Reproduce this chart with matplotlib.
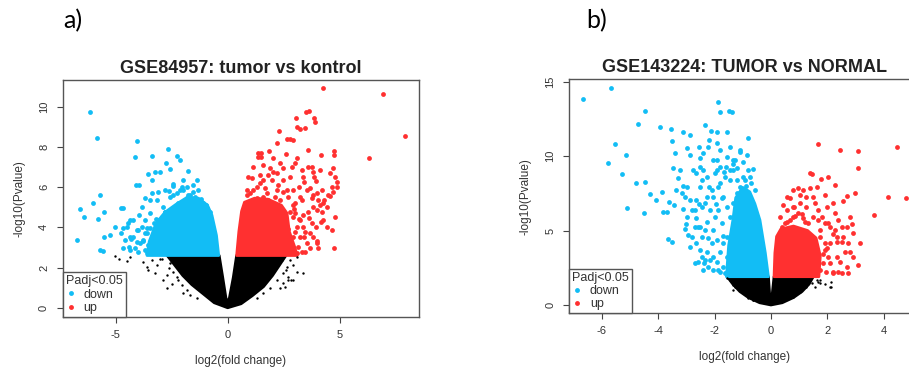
import matplotlib
matplotlib.use("Agg")
import matplotlib.pyplot as plt
from matplotlib.lines import Line2D

BLUE = "#12BDF5"
RED = "#FF3030"
BLACK = "#000000"
GRAY = "#444444"

# ---------------- Panel a data (GSE84957) ----------------
a_blue_x = [-6.13, -5.83, -4.05, -4.12, -3.39, -2.68, -2.74, -2.28, -2.14, -2.58, -1.77, -1.38,
            -3.57, -3.24, -3.02, -3.39, -4.07, -3.97, -2.46, -1.98, -5.72, -6.00, -6.58, -6.41,
            -5.81, -5.52, -6.74, -5.70, -5.58, -5.52, -5.24, -5.03, -4.78, -4.66, -4.78, -4.51,
            -4.36, -4.69, -4.39, -4.21, -3.84, -3.69, -3.47, -3.17, -2.95, -2.87, -2.57, -2.28,
            -1.98, -1.53, -3.62, -3.32, -3.02, -3.91, -4.14, -3.69, -2.72, -3.47, -2.43, -2.05,
            -4.00, -4.30, -3.80, -3.60, -3.95, -3.20, -3.05, -2.80, -2.60, -1.75, -1.20, -0.95,
            -4.66, -4.44, -4.21, -4.06, -3.84, -3.69, -3.47, -3.29, -3.10, -2.95, -2.80, -2.58,
            -2.40, -2.20, -2.05, -1.83, -1.68, -1.46, -1.24, -1.09, -0.94, -0.79, -4.58, -4.36,
            -4.06, -3.77, -3.54, -3.32, -3.10, -2.87, -2.65, -2.43, -4.36, -3.99, -3.62, -3.32,
            -2.95, -3.69, -3.39, -3.10, -2.80, -2.43, -2.13, -1.83, -1.53, -1.31]
a_blue_y = [9.72, 8.42, 8.29, 7.50, 7.55, 7.90, 7.21, 7.55, 7.33, 6.90, 6.80, 6.37,
            6.67, 6.77, 6.77, 6.37, 6.09, 6.09, 6.07, 6.37, 5.61, 5.22, 4.93, 4.51,
            4.41, 4.74, 3.35, 2.89, 2.84, 3.53, 3.63, 4.03, 4.96, 4.96, 3.70, 4.03,
            4.36, 2.95, 3.03, 3.53, 5.02, 4.36, 4.69, 5.36, 4.03, 5.02, 5.52, 5.69,
            5.85, 5.77, 3.70, 3.20, 2.95, 3.20, 2.95, 2.87, 2.79, 5.36, 6.18, 6.02,
            3.85, 3.40, 3.30, 3.95, 4.60, 4.40, 3.60, 4.75, 5.80, 5.60, 5.40, 5.10,
            3.95, 4.20, 4.36, 3.87, 4.03, 3.70, 3.95, 4.20, 4.36, 4.53, 4.78, 4.69,
            4.94, 5.19, 5.28, 5.44, 5.61, 5.52, 5.36, 5.19, 4.94, 4.78, 3.37, 3.53,
            3.28, 3.37, 3.12, 3.53, 3.28, 3.53, 3.70, 3.87, 2.87, 2.79, 2.70, 2.79,
            2.70, 5.44, 5.69, 5.77, 5.86, 5.61, 5.86, 6.02, 6.10, 5.86]

a_red_x = [4.27, 6.95, 6.31, 7.91, 4.75, 3.05, 3.50, 3.65, 3.87, 3.91, 2.31, 3.08, 3.23, 3.46,
           2.63, 2.78, 2.93, 2.22, 1.85, 1.34, 1.49, 1.34, 1.49, 2.04, 2.59, 3.08, 3.57, 4.17,
           4.75, 4.75, 4.69, 3.60, 3.75, 3.38, 3.87, 3.93, 4.87, 4.88, 4.72, 4.57, 4.32, 4.12,
           4.42, 3.97, 4.23, 4.17, 3.93, 3.75, 3.47, 3.68, 3.53, 3.30, 3.45, 3.82, 3.53, 3.23,
           3.00, 2.63, 2.78, 2.49, 2.19, 1.89, 1.59, 1.29, 1.07, 1.00, 0.85, 1.59, 2.34, 2.86,
           2.19, 1.74, 2.93, 3.08, 2.93, 3.15, 2.78, 2.70, 2.95, 3.20, 3.40, 2.60, 2.85, 4.00,
           0.85, 1.11, 1.44, 1.67, 1.96, 2.26, 2.48, 2.71, 2.93, 3.20, 3.41, 3.67, 3.97, 4.19,
           4.49, 4.64, 4.79, 4.57, 4.12, 3.82, 3.30, 3.00, 2.48, 2.04, 1.81, 1.44, 1.14, 0.92,
           2.78, 3.00, 3.23, 3.38, 3.60, 3.82, 4.27, 4.42, 4.64, 4.79, 3.00, 3.25, 3.82, 3.97,
           3.67, 4.05, 3.08, 2.86, 3.38, 3.64, 4.27, 4.01, 3.75, 3.30, 2.93, 2.34, 2.11, 1.81,
           1.59, 1.29]
a_red_y = [10.91, 10.65, 7.45, 8.56, 2.95, 9.45, 9.73, 9.80, 9.42, 9.24, 8.81, 8.99, 8.90, 8.96,
           8.41, 8.41, 8.34, 8.18, 7.81, 7.71, 7.71, 7.48, 7.48, 7.43, 7.64, 7.43, 7.84, 7.61,
           7.79, 7.60, 6.93, 7.01, 6.98, 6.52, 6.52, 6.30, 6.27, 6.02, 5.77, 5.57, 5.36, 5.11,
           5.02, 4.86, 4.78, 4.28, 4.03, 4.20, 3.78, 3.70, 3.20, 2.79, 2.79, 5.60, 5.85, 5.52,
           5.19, 5.85, 6.52, 6.35, 6.68, 6.93, 6.35, 6.02, 6.43, 5.69, 5.85, 7.10, 7.18, 7.01,
           5.85, 5.69, 4.53, 4.03, 3.53, 3.03, 2.95, 3.90, 4.90, 4.40, 3.50, 3.20, 2.70, 3.30,
           5.61, 5.86, 6.19, 5.94, 6.35, 6.10, 5.77, 5.52, 5.86, 6.02, 6.27, 5.94, 5.69, 5.86,
           5.61, 6.02, 6.52, 6.68, 6.85, 6.77, 6.85, 7.18, 6.93, 6.77, 6.60, 6.60, 7.02, 6.52,
           4.78, 4.70, 4.36, 4.61, 4.78, 5.03, 4.36, 4.03, 3.87, 4.53, 3.78, 3.53, 3.53, 3.20,
           2.95, 2.95, 2.70, 3.04, 4.03, 4.45, 5.19, 5.36, 5.44, 5.36, 5.11, 5.36, 5.52, 5.36,
           5.52, 5.44]

a_black_x = [-5.03, -4.50, -4.84, -4.36, -3.76, -3.54, -3.24, -2.87, -2.72, -1.98, -2.28, -3.17,
             -3.00, -2.60, -2.50, 2.93, 3.08, 3.38, 2.71, 2.49, 2.78, 2.34, 2.83, 2.60, 3.10,
             -2.95, -2.58, -2.43, -2.20, -2.05, -1.83, -1.68, -1.38, -3.39, -3.62, -2.72,
             2.41, 2.63, 2.48, 2.19, 1.89, 1.59, 1.29, 2.71, 2.93, 2.56]
a_black_y = [2.57, 2.31, 2.45, 2.53, 2.29, 1.87, 1.71, 1.38, 0.96, 0.71, 1.54, 2.12,
             2.45, 2.00, 1.20, 2.12, 1.79, 1.74, 1.38, 1.21, 2.37, 0.96, 1.38, 1.90, 2.50,
             2.45, 2.21, 1.79, 1.38, 1.13, 0.88, 0.63, 0.47, 2.37, 2.04, 1.63,
             2.37, 2.04, 1.71, 1.38, 0.96, 0.71, 0.47, 1.54, 1.38, 1.05]

# dense cores of the clouds (outlines)
a_blue_core_x = [-0.40, -0.50, -0.70, -0.90, -1.30, -1.80, -2.30, -2.80, -3.20, -3.50, -3.60]
a_blue_core_y = [2.60, 3.60, 4.60, 5.10, 5.45, 5.50, 5.15, 4.75, 4.20, 3.30, 2.60]
a_red_core_x = [0.40, 0.50, 0.62, 0.75, 1.20, 1.80, 2.40, 2.65, 2.75, 3.00, 3.10]
a_red_core_y = [2.60, 3.80, 4.80, 5.25, 5.45, 5.40, 5.10, 4.70, 3.80, 3.00, 2.60]
a_black_core_x = [0.00, 0.60, 1.10, 1.60, 2.00, 2.30, 2.60, 0.40, 0.25, 0.08, 0.00, -0.08,
                  -0.22, -0.38, -2.70, -2.35, -2.00, -1.60, -1.10, -0.60, 0.00]
a_black_core_y = [0.00, 0.20, 0.60, 1.05, 1.60, 2.10, 2.60, 2.60, 1.50, 0.50, 0.22, 0.50,
                  1.50, 2.60, 2.60, 2.10, 1.60, 1.15, 0.70, 0.25, 0.00]

# ---------------- Panel b data (GSE143224) ----------------
b_blue_x = [-6.68, -5.66, -5.53, -5.78, -5.13, -5.27, -5.11, -4.79, -4.70, -4.47, -4.48, -4.49,
            -4.30, -4.09, -3.94, -3.88, -3.84, -3.69, -3.66, -3.50, -3.62, -3.53, -3.51, -3.40,
            -3.46, -3.44, -3.12, -2.87, -2.99, -3.13, -3.17, -3.05, -3.13, -3.01, -3.05, -2.93,
            -2.68, -2.54, -2.35, -2.14, -1.91, -1.88, -1.80, -1.50, -1.37, -1.57, -0.83, -1.10,
            -0.63, -2.19, -2.52, -2.64, -2.99, -2.81, -2.64, -2.58, -2.46, -2.28, -2.46, -2.16,
            -2.04, -1.81, -2.10, -2.04, -2.28, -2.34, -2.04, -2.46, -2.87, -2.40, -2.04, -1.93,
            -1.57, -1.34, -1.22, -0.98, -1.45, -1.81, -1.87, -1.75, -1.93, -1.57, -1.69, -1.10,
            -3.23, -3.29, -3.35, -2.75, -2.52, -2.22, -1.90, -1.65, -1.20, -0.90, -0.75, -1.75,
            -2.20, -1.95, -1.70, -1.45, -2.55, -2.35, -1.60, -1.35,
            -2.64, -2.52, -2.38, -2.22, -2.04, -1.93, -1.81, -1.69, -1.57, -1.99, -2.16, -2.28,
            -2.10, -1.87, -1.69, -1.57, -1.45, -1.34, -1.22, -1.10, -0.92, -0.80, -0.69, -0.57,
            -0.80, -1.04, -1.45, -1.63, -1.81, -1.99, -2.28, -2.52, -2.64, -2.46, -2.34, -2.22,
            -2.52, -2.70, -2.81, -2.87, -2.58, -2.40, -1.87, -1.63, -1.34, -1.28, -0.98, -0.86,
            -1.45, -1.81, -1.93, -2.40, -2.70, -2.99, -2.87]
b_blue_y = [13.81, 14.57, 10.81, 9.56, 10.10, 8.78, 6.54, 8.17, 12.16, 13.05, 8.24, 6.16,
            7.45, 7.07, 11.95, 7.61, 6.27, 6.27, 4.41, 4.25, 6.94, 11.80, 11.01, 10.19,
            9.20, 6.72, 11.62, 11.42, 10.52, 7.99, 7.54, 7.28, 6.42, 5.42, 5.08, 4.70,
            2.80, 10.63, 12.07, 11.71, 11.64, 13.66, 12.98, 13.05, 12.96, 11.60, 11.24, 10.30,
            9.16, 11.08, 9.29, 8.84, 7.95, 6.38, 5.82, 5.26, 4.59, 3.58, 3.25, 3.02,
            2.35, 2.24, 4.14, 5.04, 5.60, 6.83, 7.28, 8.39, 10.07, 10.19, 9.74, 9.07,
            9.96, 9.74, 9.18, 8.62, 8.39, 8.17, 6.38, 5.48, 4.37, 3.25, 2.57, 10.41,
            9.07, 8.51, 7.72, 9.07, 9.85, 10.63, 10.86, 8.90, 8.40, 8.00, 8.60, 7.20,
            7.90, 6.80, 4.60, 2.80, 6.80, 3.00, 9.30, 9.50,
            4.14, 3.69, 2.80, 2.57, 3.25, 2.91, 3.58, 4.14, 4.59, 5.93, 6.38, 7.28,
            7.72, 7.95, 7.28, 6.60, 5.93, 6.83, 7.50, 7.95, 8.39, 9.07, 8.17, 7.72,
            7.28, 7.05, 9.07, 8.62, 9.29, 8.84, 8.62, 7.95, 7.05, 6.60, 5.04, 4.48,
            5.26, 5.26, 4.59, 3.92, 2.91, 2.35, 2.35, 2.13, 9.07, 9.74, 9.63, 10.07,
            10.63, 10.41, 9.74, 9.07, 6.38, 5.93, 7.05]

b_red_x = [1.68, 2.45, 3.10, 4.46, 3.10, 4.16, 4.79, 3.66, 2.98, 2.68, 2.27, 2.54, 2.03, 1.76,
           1.38, 1.45, 2.21, 1.97, 1.91, 2.27, 2.80, 2.86, 2.51, 3.16, 3.10, 2.80, 2.62, 2.51,
           2.33, 2.21, 2.09, 2.45, 2.21, 2.39, 0.96, 1.38, 0.67, 1.03, 0.44, 0.56, 0.32, 0.67,
           1.26, 1.56, 1.68, 1.74, 2.03, 1.91, 1.10, 0.85, 1.20, 1.85, 2.00, 1.95, 0.50, 0.80,
           0.38, 0.56, 0.79, 0.97, 1.15, 1.32, 1.50, 1.68, 1.80, 1.91, 2.09, 2.27, 1.74, 1.91,
           2.03, 1.86, 1.74, 1.56, 2.09, 2.33, 2.68, 2.74, 2.92, 2.21, 2.51, 0.79, 1.03, 1.26,
           1.50, 1.62, 1.15, 0.79, 0.56, 2.33, 2.57, 2.74, 2.92, 2.68, 2.39]
b_red_y = [10.81, 10.41, 10.34, 10.63, 9.22, 7.28, 7.16, 6.04, 7.54, 7.34, 8.06, 6.98, 8.57, 8.44,
           8.89, 8.78, 6.83, 6.60, 7.39, 6.16, 5.93, 5.44, 5.26, 4.19, 2.69, 3.58, 3.58, 4.25,
           4.25, 4.75, 2.80, 2.91, 2.24, 2.24, 7.84, 7.84, 7.16, 7.39, 6.72, 6.38, 5.93, 5.71,
           6.60, 6.83, 5.71, 5.04, 5.48, 4.14, 6.10, 6.00, 5.60, 3.40, 3.80, 2.20, 5.50, 6.60,
           5.26, 5.60, 5.93, 6.16, 5.82, 5.48, 5.93, 6.38, 5.93, 5.48, 5.26, 5.04, 4.59, 3.69,
           3.25, 2.80, 2.35, 3.25, 4.14, 3.25, 2.57, 2.13, 3.25, 2.13, 2.13, 6.60, 6.83, 7.28,
           7.28, 7.95, 7.72, 7.72, 7.28, 4.59, 4.59, 4.14, 4.81, 5.26, 5.71]

b_black_x = [1.74, 2.13, 2.13, 2.09, 1.68, -1.34, -1.10, -1.57, -0.80, -0.63, -1.28, 1.90, 1.55,
             -1.45, -1.34, -1.10, -0.86, -0.63, 1.03, 1.26, 1.44, 1.62, 1.74, 0.79]
b_black_y = [1.68, 1.23, 1.57, 1.23, 1.57, 1.00, 1.46, 1.79, 0.45, 0.34, 1.23, 1.40, 1.20,
             1.68, 1.34, 1.01, 0.67, 0.34, 0.90, 1.23, 1.46, 1.68, 1.46, 0.56]

b_blue_core_x = [-0.09, -0.20, -0.39, -0.57, -0.75, -1.00, -1.25, -1.35, -1.50, -1.58]
b_blue_core_y = [1.90, 3.50, 5.70, 6.80, 7.60, 7.90, 7.20, 5.70, 4.00, 1.90]
b_red_core_x = [0.11, 0.14, 0.20, 0.35, 0.80, 1.30, 1.60, 1.75, 1.70]
b_red_core_y = [1.90, 3.50, 4.60, 5.10, 5.30, 5.00, 4.50, 3.30, 1.90]
b_black_core_x = [0.00, 0.40, 0.80, 1.10, 1.35, 1.50, 0.11, 0.05, 0.00, -0.05, -0.09, -1.55,
                  -1.35, -1.10, -0.80, -0.40, 0.00]
b_black_core_y = [0.00, 0.15, 0.50, 0.90, 1.40, 1.90, 1.90, 0.80, 0.18, 0.80, 1.90, 1.90,
                  1.40, 0.90, 0.50, 0.15, 0.00]

a_xticks = [-5, 0, 5]
a_yticks = [0, 2, 4, 6, 8, 10]
b_xticks = [-6, -4, -2, 0, 2, 4]
b_yticks = [0, 5, 10, 15]

W, H = 909, 369
fig = plt.figure(figsize=(W / 100, H / 100), dpi=100)
plt.rcParams['font.family'] = ['Liberation Sans', 'DejaVu Sans']


def px_axes(l, t, r, b):
    return fig.add_axes([l / W, 1 - b / H, (r - l) / W, (b - t) / H])


def draw(ax, core, pts, title, xt, yt, xlim, ylim):
    for (cx, cy, col) in core:
        ax.fill(cx, cy, color=col, lw=2.0, ec=col, joinstyle='round', zorder=2)
    for (x, y, col, s) in pts:
        ax.scatter(x, y, s=s, c=col, linewidths=0, zorder=3)
    ax.set_xlim(*xlim)
    ax.set_ylim(*ylim)
    ax.set_xticks(xt)
    ax.set_yticks(yt)
    ax.set_xticklabels([str(v) for v in xt], fontsize=8, color="#333333")
    ax.set_yticklabels([str(v) for v in yt], fontsize=8, color="#333333",
                       rotation=90, va='center')
    ax.tick_params(direction='out', length=4, width=0.8, color=GRAY, pad=5)
    ax.tick_params(axis='y', pad=6)
    for s in ax.spines.values():
        s.set_color("#555555")
        s.set_linewidth(1.0)
    ax.set_title(title, fontsize=13, fontweight='bold', pad=5, color="#222222")
    ax.set_xlabel("log2(fold change)", fontsize=8.5, color="#333333", labelpad=11)
    ax.set_ylabel("-log10(Pvalue)", fontsize=8.5, color="#333333", labelpad=10)
    handles = [Line2D([], [], ls='', marker='o', markersize=3.5, color=BLUE, mew=0),
               Line2D([], [], ls='', marker='o', markersize=3.5, color=RED, mew=0)]
    leg = ax.legend(handles, ["down", "up"], title="Padj<0.05", loc='lower left',
                    borderaxespad=0, fancybox=False, fontsize=9, title_fontsize=9,
                    handlelength=0.8, handletextpad=0.6, borderpad=0.25, labelspacing=0.1,
                    alignment='left', framealpha=1, edgecolor="#555555")
    leg.get_frame().set_linewidth(1.0)
    for t in leg.get_texts():
        t.set_color("#333333")
    leg.get_title().set_color("#333333")


ax1 = px_axes(63, 80, 419, 317)
draw(ax1,
     [(a_black_core_x, a_black_core_y, BLACK),
      (a_blue_core_x, a_blue_core_y, BLUE),
      (a_red_core_x, a_red_core_y, RED)],
     [(a_black_x, a_black_y, BLACK, 3),
      (a_blue_x, a_blue_y, BLUE, 12),
      (a_red_x, a_red_y, RED, 12)],
     "GSE84957: tumor vs kontrol", a_xticks, a_yticks, (-7.35, 8.54), (-0.46, 11.33))

ax2 = px_axes(569.3, 79.3, 920.7, 313.3)
draw(ax2,
     [(b_black_core_x, b_black_core_y, BLACK),
      (b_blue_core_x, b_blue_core_y, BLUE),
      (b_red_core_x, b_red_core_y, RED)],
     [(b_black_x, b_black_y, BLACK, 3),
      (b_blue_x, b_blue_y, BLUE, 12),
      (b_red_x, b_red_y, RED, 12)],
     "GSE143224: TUMOR vs NORMAL", b_xticks, b_yticks, (-7.15, 5.31), (-0.56, 15.16))

fig.text(63 / W, 1 - 21 / H, "a)", fontsize=18, family=['Lato', 'DejaVu Sans'],
         va='center', ha='left')
fig.text(586 / W, 1 - 21 / H, "b)", fontsize=18, family=['Lato', 'DejaVu Sans'],
         va='center', ha='left')

fig.savefig("out.png", dpi=100)
